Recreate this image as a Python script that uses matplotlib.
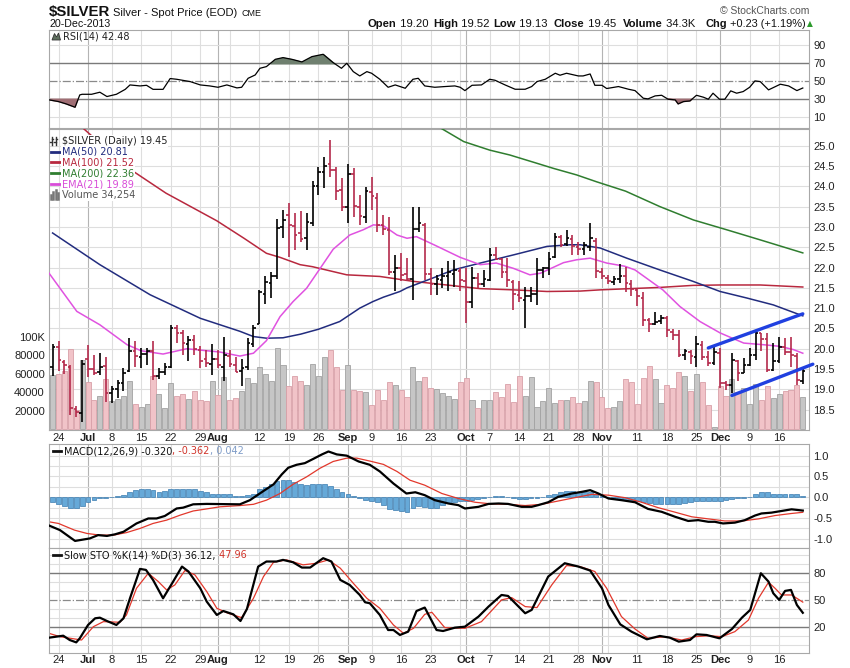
import numpy as np
import pandas as pd
import matplotlib
matplotlib.use("Agg")
import matplotlib.pyplot as plt
from matplotlib.lines import Line2D
from matplotlib.patches import Polygon
from matplotlib import transforms

plt.rcParams['font.family'] = ['Liberation Sans', 'DejaVu Sans']

W, H = 850, 668

# trading days on the chart (Jun 21 - Dec 20 2013)
days = pd.bdate_range('2013-06-21', '2013-12-20')
days = days[~days.isin(pd.to_datetime(['2013-07-04', '2013-09-02', '2013-11-28']))]

opens = [19.55, 20.05, 19.68, 19.55, 18.52, 18.42, 19.75, 19.50, 19.42, 19.58,
         18.90, 19.00, 19.15, 19.45, 19.95, 19.80, 19.88, 19.95, 19.32, 19.42,
         19.55, 20.50, 20.38, 20.12, 20.22, 19.98, 19.75, 19.62, 19.75, 19.55,
         19.82, 19.60, 19.45, 19.55, 20.12, 20.62, 21.35, 21.62, 21.80, 23.00,
         23.30, 23.02, 22.85, 22.72, 23.10, 24.00, 24.35, 24.55, 24.40, 23.90,
         23.50, 24.30, 23.50, 23.25, 23.85, 23.70, 23.05, 22.92, 21.88, 21.98,
         21.85, 21.72, 22.95, 23.05, 21.85, 21.60, 21.70, 21.78, 21.85, 21.92,
         21.68, 21.15, 21.75, 21.60, 21.70, 22.32, 22.20, 21.90, 21.65, 21.32,
         21.20, 21.30, 21.35, 21.95, 22.00, 22.25, 22.75, 22.58, 22.70, 22.50,
         22.45, 22.50, 22.65, 21.90, 21.75, 21.65, 21.72, 21.80, 21.60, 21.45,
         21.25, 20.70, 20.60, 20.68, 20.75, 20.42, 20.35, 19.85, 19.93, 19.80,
         20.10, 19.80, 19.65, 19.90, 19.15, 19.10, 19.70, 19.40, 19.60, 19.85,
         20.38, 20.25, 19.48, 19.70, 20.05, 19.93, 19.82, 19.20]
highs = [20.12, 20.18, 19.72, 19.60, 18.58, 19.72, 20.10, 19.85, 19.90, 19.80,
         19.08, 19.24, 19.52, 20.26, 20.18, 20.02, 20.02, 20.18, 19.52, 19.65,
         20.59, 20.59, 20.45, 20.32, 20.34, 20.08, 19.98, 20.12, 19.98, 20.28,
         19.98, 19.80, 19.75, 20.26, 20.59, 21.45, 21.78, 21.88, 23.20, 23.42,
         23.60, 23.33, 23.38, 23.33, 24.12, 24.48, 24.73, 25.14, 24.48, 24.20,
         24.56, 24.44, 23.79, 23.99, 24.24, 23.83, 23.30, 23.25, 22.30, 22.35,
         22.23, 23.50, 23.50, 23.10, 21.98, 21.82, 21.98, 22.15, 22.19, 21.98,
         21.98, 22.02, 21.86, 21.94, 22.47, 22.51, 22.23, 22.23, 21.70, 21.66,
         21.53, 21.53, 22.23, 22.02, 22.39, 22.84, 22.80, 22.93, 22.80, 22.62,
         22.64, 23.10, 22.72, 22.00, 21.82, 21.80, 22.08, 22.02, 21.70, 21.50,
         21.40, 20.75, 20.90, 20.82, 20.80, 20.48, 20.45, 20.00, 19.98, 20.32,
         20.20, 19.95, 20.05, 20.02, 19.20, 19.89, 19.73, 19.77, 20.02, 20.43,
         20.40, 20.38, 20.14, 20.30, 20.26, 20.30, 19.90, 19.52]
lows = [19.32, 19.45, 19.38, 18.38, 18.32, 18.20, 19.30, 19.36, 19.36, 18.70,
        18.66, 18.80, 18.95, 19.42, 19.56, 19.52, 19.60, 19.24, 19.26, 19.36,
        19.52, 20.15, 19.85, 19.69, 19.85, 19.52, 19.55, 19.36, 19.52, 19.20,
        19.55, 19.44, 19.08, 19.48, 20.05, 20.62, 21.10, 21.25, 21.72, 22.72,
        22.27, 22.43, 22.64, 22.43, 23.01, 23.79, 23.95, 24.24, 23.67, 23.38,
        23.09, 23.25, 23.05, 23.09, 23.42, 22.88, 22.80, 21.82, 21.41, 21.66,
        21.66, 21.20, 22.88, 21.69, 21.33, 21.33, 21.49, 21.41, 21.53, 21.41,
        20.63, 21.00, 21.49, 21.53, 21.66, 22.19, 21.74, 21.53, 20.96, 21.16,
        20.51, 21.16, 21.08, 21.74, 21.82, 22.23, 22.50, 22.52, 22.30, 22.32,
        22.30, 22.40, 21.74, 21.72, 21.60, 21.58, 21.62, 21.40, 21.30, 21.05,
        20.55, 20.42, 20.58, 20.60, 20.30, 20.22, 19.80, 19.72, 19.62, 19.55,
        19.72, 19.58, 19.60, 19.03, 18.99, 18.91, 19.20, 19.40, 19.58, 19.73,
        19.95, 19.44, 19.45, 19.65, 19.85, 19.55, 19.10, 19.13]
closes = [20.05, 19.72, 19.60, 18.55, 18.45, 19.62, 19.50, 19.40, 19.55, 18.90,
          19.00, 19.15, 19.40, 19.95, 19.82, 19.88, 19.95, 19.32, 19.42, 19.55,
          20.50, 20.40, 20.15, 20.22, 20.00, 19.70, 19.65, 19.75, 19.60, 19.85,
          19.62, 19.42, 19.52, 20.15, 20.50, 21.40, 21.65, 21.78, 22.98, 23.18,
          23.05, 22.80, 22.70, 23.12, 24.00, 24.35, 24.50, 24.40, 23.88, 23.50,
          24.30, 23.52, 23.28, 23.88, 23.75, 23.05, 22.95, 21.90, 21.98, 21.82,
          21.72, 22.95, 23.10, 21.85, 21.60, 21.72, 21.80, 21.88, 21.95, 21.70,
          21.15, 21.75, 21.60, 21.72, 22.30, 22.20, 21.90, 21.70, 21.35, 21.25,
          21.30, 21.35, 21.95, 22.00, 22.22, 22.75, 22.56, 22.72, 22.52, 22.45,
          22.55, 22.72, 21.92, 21.80, 21.68, 21.72, 21.80, 21.62, 21.48, 21.30,
          20.70, 20.60, 20.66, 20.75, 20.45, 20.35, 19.85, 19.95, 19.82, 20.12,
          19.80, 19.65, 19.92, 19.15, 19.10, 19.72, 19.40, 19.60, 19.85, 20.38,
          20.25, 19.48, 19.69, 20.05, 19.93, 19.85, 19.22, 19.45]
prev_close = 19.50

volume_k = [59, 60, 63, 87, 21, 75, 51, 32, 36, 54,
            30, 33, 36, 52, 27, 24, 27, 58, 38, 23,
            50, 36, 38, 33, 41, 32, 30, 52, 37, 56,
            31, 34, 41, 55, 50, 67, 60, 52, 88, 69,
            47, 58, 52, 48, 70, 57, 78, 86, 67, 42,
            69, 42, 41, 40, 26, 42, 32, 51, 48, 42,
            35, 67, 52, 56, 44, 43, 39, 36, 33, 51,
            55, 31, 23, 32, 32, 40, 35, 49, 29, 58,
            36, 56, 24, 30, 44, 28, 31, 32, 35, 28,
            30, 52, 51, 35, 23, 24, 30, 54, 51, 27,
            55, 68, 54, 28, 48, 44, 62, 58, 41, 60,
            51, 26, 2, 47, 36, 54, 40, 45, 27, 49,
            32, 47, 34, 38, 41, 42, 48, 34.254]

# moving averages (bar index, value)
ma50_x = [0, 8, 16.5, 25, 31.7, 34, 36.2, 39, 42, 45, 48.6, 52, 54.2, 56, 58.8, 60, 64.7,
          67.8, 72.4, 78, 83.7, 87.6, 89.3, 92.7, 97.2, 102.8, 108.4, 113, 117.5, 122, 127]
ma50_y = [22.85, 22.07, 21.33, 20.75, 20.43, 20.30, 20.26, 20.27, 20.36, 20.48, 20.67, 21.0,
          21.16, 21.27, 21.41, 21.50, 21.76, 21.94, 22.11, 22.31, 22.52, 22.56, 22.56, 22.48,
          22.23, 21.94, 21.66, 21.41, 21.25, 21.08, 20.81]
ma100_x = [5.0, 12.7, 19.2, 27.8, 32.4, 36.2, 38.5, 41.9, 44, 49.8, 55.4, 61, 66.7, 72.4,
           78, 83.7, 89.3, 92.7, 102.8, 108.4, 113, 119.8, 127]
ma100_y = [25.45, 24.46, 23.83, 23.15, 22.72, 22.35, 22.25, 22.07, 22.02, 21.82, 21.78, 21.66,
           21.57, 21.48, 21.45, 21.41, 21.42, 21.45, 21.51, 21.56, 21.57, 21.57, 21.52]
ma200_x = [65.5, 69.6, 74, 77.4, 81.9, 84.8, 88.7, 92.1, 97, 102.8, 108.5, 114.1, 119.8, 127]
ma200_y = [25.45, 25.10, 24.89, 24.77, 24.57, 24.44, 24.28, 24.11, 23.88, 23.50, 23.17,
           22.93, 22.68, 22.36]
ema21_x = [-0.6, 4.1, 8, 12.6, 15, 18.7, 22.7, 28.3, 31.7, 34, 36.2, 38.5, 40.7, 43, 45.3,
           47.5, 50.3, 52.6, 54.3, 56, 58.3, 60, 61.6, 64.7, 69, 72.4, 75.1, 78, 80.8, 82.6,
           86.5, 88.7, 91, 93.8, 96.9, 98.6, 103.3, 106.2, 109.6, 113, 117, 120.3, 123.1,
           125.4, 127]
ema21_y = [21.86, 20.92, 20.59, 20.10, 19.95, 19.87, 20.00, 19.92, 19.82, 19.89, 20.20,
           20.79, 21.16, 21.49, 21.98, 22.45, 22.80, 22.93, 23.05, 23.03, 22.80, 22.72,
           22.76, 22.55, 22.25, 22.07, 22.11, 21.98, 21.82, 21.86, 22.12, 22.19, 22.23,
           22.11, 22.03, 21.94, 21.45, 21.04, 20.67, 20.39, 20.14, 20.10, 20.06, 19.98, 19.89]

# hand drawn channel
trend_up_x, trend_up_y = [111, 127], [20.02, 20.86]
trend_lo_x, trend_lo_y = [115, 128.7], [18.85, 19.62]

rsi_x = [-0.6, 1, 2.3, 3.8, 4.6, 5, 6.6, 8, 9.2, 10.8, 12.3, 13.1, 14.8, 15.9, 17, 18.7,
         19.9, 21, 23.3, 25, 26.6, 28, 29.5, 31.2, 32, 33.1, 34.3, 35.1, 36.2, 37.7, 39,
         40.5, 42.2, 43.9, 45.8, 47.5, 48.9, 49.8, 50.9, 52, 53.2, 54, 55.4, 56.8, 58,
         59.7, 61, 61.9, 63, 64.7, 66.4, 68.1, 69, 69.8, 71, 72.6, 74, 74.9, 76.6, 78.3,
         80, 81.1, 82, 83.4, 85.1, 85.9, 87, 89, 89.8, 91, 91.8, 93, 93.8, 95.8, 97.5,
         98.6, 100, 100.8, 102, 103.1, 104.2, 105.4, 105.9, 106.8, 107.9, 109, 110.2,
         111, 111.8, 112.9, 113.8, 114.8, 115.8, 116.9, 118, 118.9, 119.8, 121.2, 123.2,
         124.6, 126, 127]
rsi_y = [29.3, 27.4, 24.8, 21.1, 34.8, 35.5, 35.5, 37.8, 33, 35.5, 41, 45.9, 44.8, 45.5,
         41, 41, 53, 52.2, 49.6, 45.9, 44.8, 43.3, 45.9, 42.6, 43.3, 53.3, 57, 64.4, 66.3,
         74.4, 76.3, 74.4, 71.5, 77.4, 80, 70.7, 64.4, 70, 60.7, 55.9, 60.7, 58.9, 52.2,
         43.3, 45.9, 42.2, 52.2, 53.3, 44.8, 43.3, 44.1, 44.8, 43.3, 39.6, 45.5, 45.9, 52.2,
         51.1, 45.9, 41.1, 41.1, 44.1, 49.6, 52.2, 58.9, 56.7, 58.9, 55.9, 55.9, 58.1, 45.5,
         45.5, 41.9, 44.1, 41.1, 39.6, 31.1, 30.4, 33.7, 34.4, 30, 29.3, 24.8, 27.4, 28.1,
         34.4, 32.2, 30, 36.7, 30, 30, 39.3, 36.7, 38.5, 43.3, 50.4, 49.6, 40.4, 46.7, 44.8,
         39.6, 42.48]

macd_x = [-0.6, 1.25, 3.8, 6.3, 7.7, 9.2, 10.6, 12, 14.2, 16.2, 17.6, 19, 21, 22.1, 23.8,
          26.1, 31.7, 33.4, 35.7, 37.4, 38.8, 39.9, 41.3, 42.7, 44.1, 45.6, 46.7, 48.1,
          49.8, 51.8, 53.7, 55.4, 57.7, 59.9, 61.4, 63, 64.7, 67, 68.7, 69.8, 72.1, 73.8,
          75.5, 77.1, 79.4, 81.1, 82.2, 83.9, 85.6, 87.9, 89.6, 91, 92.4, 94.1, 96.3, 98.6,
          100.8, 103.1, 105.4, 107.6, 109.3, 111, 112.1, 113.5, 115.5, 117.2, 118.9, 120,
          121.7, 123.4, 125.1, 127]
macd_y = [-0.68, -0.79, -1.05, -0.99, -0.91, -0.93, -0.89, -0.83, -0.63, -0.51, -0.51,
          -0.45, -0.27, -0.25, -0.17, -0.16, -0.17, -0.07, 0.15, 0.31, 0.55, 0.71, 0.78,
          0.82, 0.92, 1.03, 1.10, 1.03, 1.0, 0.86, 0.78, 0.62, 0.33, 0.09, 0.12, 0.05,
          -0.07, -0.15, -0.19, -0.27, -0.23, -0.16, -0.15, -0.16, -0.23, -0.23, -0.19,
          -0.12, 0.01, 0.09, 0.13, 0.17, 0.09, -0.03, -0.07, -0.12, -0.28, -0.35, -0.47,
          -0.57, -0.55, -0.59, -0.59, -0.63, -0.61, -0.55, -0.44, -0.39, -0.37, -0.33,
          -0.29, -0.32]
signal_x = [-0.6, 1, 3.7, 5.8, 8, 10.3, 12.5, 14.8, 17, 19.3, 21.6, 23.8, 26.1, 28.3, 31.7,
            34, 36.2, 38.5, 40.7, 43, 45.3, 47.5, 49.8, 51.5, 53.7, 56, 58.3, 60.5, 63,
            65.9, 68.7, 71.5, 74.3, 77.1, 80, 82.8, 85.6, 88.4, 91.3, 94.1, 96.9, 99.7,
            102.5, 105.4, 108.2, 111, 113.8, 116.7, 119.5, 122.3, 125.1, 127]
signal_y = [-0.59, -0.63, -0.79, -0.87, -0.91, -0.91, -0.85, -0.75, -0.63, -0.55, -0.43,
            -0.33, -0.28, -0.23, -0.20, -0.17, -0.07, 0.09, 0.31, 0.49, 0.70, 0.86, 0.94,
            0.94, 0.87, 0.79, 0.62, 0.41, 0.29, 0.09, -0.03, -0.12, -0.16, -0.17, -0.20,
            -0.17, -0.09, -0.01, 0.07, 0.05, -0.01, -0.12, -0.25, -0.36, -0.47, -0.52,
            -0.57, -0.57, -0.52, -0.44, -0.39, -0.362]
hist = [-0.12, -0.17, -0.21, -0.25, -0.27, -0.21, -0.12, -0.07, -0.03, -0.03,
        0.00, 0.04, 0.05, 0.13, 0.17, 0.20, 0.21, 0.17, 0.13, 0.15,
        0.20, 0.21, 0.21, 0.21, 0.20, 0.15, 0.12, 0.09, 0.08, 0.09,
        0.07, 0.03, 0.03, 0.05, 0.09, 0.21, 0.25, 0.31, 0.39, 0.41,
        0.41, 0.37, 0.33, 0.29, 0.31, 0.31, 0.31, 0.27, 0.21, 0.12,
        0.09, 0.03, -0.03, -0.07, -0.09, -0.12, -0.19, -0.28, -0.31, -0.33,
        -0.36, -0.27, -0.20, -0.23, -0.25, -0.25, -0.19, -0.15, -0.11, -0.09,
        -0.09, -0.07, -0.04, -0.03, 0.01, 0.03, 0.03, 0.01, -0.01, -0.04,
        -0.04, -0.03, -0.01, 0.01, 0.05, 0.09, 0.13, 0.15, 0.15, 0.13,
        0.12, 0.13, 0.07, 0.03, 0.00, -0.03, -0.04, -0.07, -0.07, -0.09,
        -0.12, -0.15, -0.16, -0.16, -0.16, -0.16, -0.16, -0.15, -0.12, -0.09,
        -0.08, -0.08, -0.08, -0.09, -0.06, -0.04, -0.03, -0.01, 0.01, 0.09,
        0.12, 0.12, 0.09, 0.09, 0.09, 0.09, 0.07, 0.042]

stok_x = [-0.6, 1.8, 2.9, 4, 4.6, 6, 7.2, 8, 9.2, 10.8, 12, 13.1, 14.8, 15.8, 17, 18.7,
          20.4, 21.9, 23, 25, 26.1, 27.8, 28.9, 30.6, 31.8, 32.9, 34.8, 36.2, 37.9, 39,
          40.7, 42.2, 43.6, 45.8, 47.2, 48.7, 50.3, 52, 52.9, 53.7, 55.4, 56.8, 57.7, 58.8,
          60.2, 61.6, 63, 65, 66.1, 68.1, 69.8, 72.1, 73.8, 76, 77.1, 80, 81.1, 83.9, 86.7,
          89, 91, 93, 94.1, 96.1, 98, 100.6, 102.8, 104.5, 106, 107.9, 109, 110.7, 112.9,
          115, 116.7, 118.1, 119.9, 121.2, 122, 123, 124, 125, 126, 127]
stok_y = [8.5, 10.7, 5.9, 3.3, 7.8, 22.6, 30, 30.7, 27, 22.6, 30, 52.2, 84.8, 83.7, 72.6,
          52.2, 70.7, 87.4, 81.9, 63.3, 48.5, 33.7, 38.1, 34.4, 27, 40.4, 87.4, 93, 93,
          94.8, 92.2, 86.3, 86.3, 96.7, 93, 72.6, 67, 55.9, 47.8, 46.7, 33.7, 17, 17, 11.5,
          15.2, 38.1, 41.9, 17, 15.9, 19.6, 20.7, 31.9, 43, 55.9, 54.8, 35.6, 39.3, 76.3,
          91.1, 87.4, 83, 63.3, 44.8, 23.3, 15.2, 6.7, 10.4, 8.5, 4.1, 5.9, 12.2, 11.5, 7.8,
          18.1, 30.7, 39.3, 80, 70.7, 57.8, 50.4, 60.4, 61.5, 44.8, 36.12]
stod_x = [-0.6, 1.25, 4.9, 6.9, 8.6, 11.4, 12.5, 14.2, 16.2, 17.9, 19.3, 20.7, 22.4, 24.1,
          26.1, 27.8, 29.7, 32, 34, 35.7, 37.4, 39.6, 42.4, 44.7, 46.7, 48.7, 50.9, 53.2,
          55.4, 57.7, 59.4, 61.1, 63, 64.2, 66.4, 69.8, 72.6, 76, 77.7, 80, 82, 84.5, 87,
          89.3, 91.8, 93.8, 96.3, 98.6, 100.8, 103.7, 106.5, 108.8, 111, 113.3, 115.5,
          117.8, 119.5, 121.2, 122.3, 123.4, 125.1, 127]
stod_y = [13.3, 9.6, 5.9, 20.7, 26.3, 25.6, 33.7, 63.3, 80, 70.7, 61.5, 67, 83, 78.1, 59.6,
          41.1, 35.6, 30.7, 52.2, 76.3, 92.2, 94.8, 89.3, 91.1, 94.8, 85.6, 68.9, 52.2,
          41.1, 22.6, 13.3, 18.9, 34.4, 36.7, 19.6, 18.9, 26.3, 50.4, 53, 43, 41.9, 67,
          88.5, 87.4, 81.9, 63.3, 31.9, 18.1, 7.8, 9.6, 5.9, 9.6, 10.7, 9.6, 15.2, 28.1,
          52.2, 70, 63.3, 55.9, 55.9, 47.96]

label_dates = ['2013-06-24', '2013-07-01', '2013-07-08', '2013-07-15', '2013-07-22',
               '2013-07-29', '2013-08-01', '2013-08-12', '2013-08-19', '2013-08-26',
               '2013-09-03', '2013-09-09', '2013-09-16', '2013-09-23', '2013-10-01',
               '2013-10-07', '2013-10-14', '2013-10-21', '2013-10-28', '2013-11-01',
               '2013-11-11', '2013-11-18', '2013-11-25', '2013-12-02', '2013-12-09',
               '2013-12-16']
label_text = ['24', 'Jul', '8', '15', '22', '29', 'Aug', '12', '19', '26', 'Sep', '9', '16',
              '23', 'Oct', '7', '14', '21', '28', 'Nov', '11', '18', '25', 'Dec', '9', '16']
months = ['Jul', 'Aug', 'Sep', 'Oct', 'Nov', 'Dec']

# ---------------------------------------------------------------------------
N = len(days)
idx = np.arange(N)
label_idx = [days.get_loc(pd.Timestamp(d)) for d in label_dates]
week_idx = [i for i in range(1, N) if days[i].isocalendar()[1] != days[i - 1].isocalendar()[1]]
month_idx = [i for i in range(1, N) if days[i].month != days[i - 1].month]
XL = (-0.61, 128.05)

fig = plt.figure(figsize=(W / 100, H / 100), dpi=100)


def box(x0, y0, x1, y1):
    return [x0 / W, 1 - y1 / H, (x1 - x0) / W, (y1 - y0) / H]


def style(a, grid=True):
    a.set_xlim(*XL)
    for s in a.spines.values():
        s.set_color('#a8a8a8')
        s.set_linewidth(0.8)
    a.tick_params(length=0, labelsize=8, colors='#222222', pad=3)
    a.set_xticks([])
    a.yaxis.tick_right()
    if grid:
        for i in sorted(set(week_idx) | set(month_idx)):
            a.axvline(i, color='#b4b4b4' if i in month_idx else '#dedede', lw=0.8, zorder=0)


def hgrid(a, levels, color='#dedede', lw=0.8, ls='-'):
    for v in levels:
        a.axhline(v, color=color, lw=lw, ls=ls, zorder=0.5)


LEG = ['DejaVu Sans']

# ---- RSI panel
ax_rsi = fig.add_axes(box(49, 30, 809, 128))
style(ax_rsi)
ax_rsi.set_ylim(-2, 107)
hgrid(ax_rsi, [10, 90])
hgrid(ax_rsi, [30, 70], color='#7a7a7a', lw=1.0)
hgrid(ax_rsi, [50], color='#8a8a8a', lw=0.9, ls='-.')
rx, ry = np.array(rsi_x), np.array(rsi_y)
ax_rsi.fill_between(rx, ry, 70, where=ry > 70, interpolate=True, color='#6f806f', zorder=2)
ax_rsi.fill_between(rx, ry, 30, where=ry < 30, interpolate=True, color='#a06e74', zorder=2)
ax_rsi.plot(rx, ry, color='black', lw=0.9, zorder=3)
ax_rsi.set_yticks([10, 30, 50, 70, 90])

# ---- price panel with volume underneath
ax_vol = fig.add_axes(box(49, 129, 809, 430))
ax = fig.add_axes(box(49, 129, 809, 430))
style(ax_vol)
ax_vol.yaxis.tick_left()
ax.set_xlim(*XL)
ax.set_ylim(18.0, 25.41)
ax.patch.set_visible(False)
for s in ax.spines.values():
    s.set_visible(False)
ax.tick_params(length=0, labelsize=8, colors='#222222', pad=3)
ax.yaxis.tick_right()
ax.set_yticks(np.arange(18.5, 25.01, 0.5))
ax.set_yticklabels(['%.1f' % v for v in np.arange(18.5, 25.01, 0.5)])

blend = transforms.blended_transform_factory(ax_vol.transAxes, ax.transData)
for p in np.arange(18.5, 25.01, 0.5):
    ax_vol.plot([0, 1], [p, p], transform=blend, color='#dedede', lw=0.8, zorder=0.5)

prevs = [prev_close] + closes[:-1]
up = [c > p for c, p in zip(closes, prevs)]
bar_col = ['#000000' if u else '#b42a4c' for u in up]
ax_vol.bar(idx, np.array(volume_k) * 1000, width=0.86,
           color=['#c6c6c6' if u else '#f1c3c8' for u in up],
           edgecolor=['#a2a2a2' if u else '#d8a0a8' for u in up], lw=0.6, zorder=1)
ax_vol.set_ylim(-900, 324500)
ax_vol.set_yticks([20000, 40000, 60000, 80000, 100000])
ax_vol.set_yticklabels(['20000', '40000', '60000', '80000', '100K'])

ax.plot(ma100_x, ma100_y, color='#b8283e', lw=1.1, zorder=2)
ax.plot(ma200_x, ma200_y, color='#2f7d2f', lw=1.1, zorder=2)
ax.plot(ma50_x, ma50_y, color='#222c7e', lw=1.1, zorder=2)
ax.plot(ema21_x, ema21_y, color='#e052e0', lw=1.1, zorder=2)
ax.vlines(idx, lows, highs, colors=bar_col, lw=1.2, zorder=3)
ax.hlines(opens, idx - 0.45, idx, colors=bar_col, lw=1.2, zorder=3)
ax.hlines(closes, idx, idx + 0.45, colors=bar_col, lw=1.2, zorder=3)
ax.plot(trend_up_x, trend_up_y, color='#2040e0', lw=2.4, zorder=4, solid_capstyle='round')
ax.plot(trend_lo_x, trend_lo_y, color='#2040e0', lw=2.4, zorder=4, clip_on=False,
        solid_capstyle='round')

ax.set_xticks(label_idx)
ax.set_xticklabels(label_text)
ax.tick_params(axis='x', length=0, labelsize=8, pad=2.5)

# ---- MACD panel
ax_macd = fig.add_axes(box(49, 444, 809, 548))
style(ax_macd)
ax_macd.set_ylim(-1.22, 1.28)
hgrid(ax_macd, np.arange(-1.0, 1.01, 0.25))
ax_macd.bar(idx, hist, width=0.82, color='#66a9d8', edgecolor='#3c7cb0', lw=0.5, zorder=1)
ax_macd.plot(signal_x, signal_y, color='#e2382c', lw=0.9, zorder=2)
ax_macd.plot(macd_x, macd_y, color='black', lw=1.6, zorder=3)
ax_macd.set_yticks([-1.0, -0.5, 0.0, 0.5, 1.0])
ax_macd.set_yticklabels(['-1.0', '-0.5', '0.0', '0.5', '1.0'])

# ---- Slow stochastic panel
ax_sto = fig.add_axes(box(49, 548, 809, 653))
style(ax_sto)
ax_sto.set_ylim(-8.5, 108)
hgrid(ax_sto, [0, 10, 30, 40, 60, 70, 90, 100])
hgrid(ax_sto, [20, 80], color='#7a7a7a', lw=1.0)
hgrid(ax_sto, [50], color='#8a8a8a', lw=0.9, ls='-.')
ax_sto.plot(stod_x, stod_y, color='#e2382c', lw=0.9, zorder=2)
ax_sto.plot(stok_x, stok_y, color='black', lw=1.6, zorder=3)
ax_sto.set_yticks([20, 50, 80])
ax_sto.set_xticks(label_idx)
ax_sto.set_xticklabels(label_text)
ax_sto.tick_params(axis='x', length=0, labelsize=8, pad=1.5)

for a in (ax, ax_sto):
    for t in a.get_xticklabels():
        if t.get_text() in months:
            t.set_fontweight('bold')

# ---- text and legends


def put(x, y, s, size=8, color='#222222', weight='normal', family=None, ha='left', **kw):
    kws = dict(fontsize=size, color=color, fontweight=weight, ha=ha, va='center')
    if family:
        kws['family'] = family
    kws.update(kw)
    return fig.text(x / W, 1 - y / H, s, **kws)


def run(x, y, parts, size=8, family=None):
    r = fig.canvas.get_renderer()
    for s, color, weight in parts:
        t = put(x, y, s, size=size, color=color, weight=weight, family=family)
        x += t.get_window_extent(renderer=r).width
    return x


def seg(x0, x1, y, color, lw=2.0):
    fig.add_artist(Line2D([x0 / W, x1 / W], [1 - y / H, 1 - y / H], color=color, lw=lw))


x = run(49, 12, [('$SILVER', '#111111', 'bold')], size=10.8)
x = run(x + 3, 12.5, [('Silver - Spot Price (EOD)', '#111111', 'normal')], size=8)
run(x + 4, 13, [('CME', '#111111', 'normal')], size=6.5)
put(49, 24, '20-Dec-2013', size=7.7, color='#111111')
put(809, 10.5, '\u00a9 StockCharts.com', size=7.5, color='#555555', ha='right')

info = [(368, 'Open', ' 19.20'), (433, 'High', ' 19.52'), (493, 'Low', ' 19.13'),
        (554, 'Close', ' 19.45'), (623, 'Volume', ' 34.3K')]
for xx, lab, val in info:
    run(xx, 24, [(lab, '#111111', 'bold'), (val, '#111111', 'normal')], size=8.1)
x = run(705, 24, [('Chg', '#111111', 'bold'), (' +0.23 (+1.19%) ', '#111111', 'normal')],
        size=7.9)
put(x - 1, 24, '\u25b2', size=5.5, color='#2c9a2c', family=['DejaVu Sans'])

# RSI legend
fig.add_artist(Polygon([(52 / W, 1 - 40 / H), (54.5 / W, 1 - 33.5 / H), (56.5 / W, 1 - 37 / H),
                        (58.5 / W, 1 - 33 / H), (60.5 / W, 1 - 40 / H)],
                       closed=True, facecolor='#5f705f', edgecolor='#333333', lw=0.6))
put(63, 36.5, 'RSI(14) 42.48', size=7, family=LEG)

# price legend
wb = dict(facecolor='white', edgecolor='none', pad=0.6)
for xx, y0, y1 in [(51.5, 137, 145), (55.5, 136.5, 144.5)]:
    fig.add_artist(Line2D([xx / W, xx / W], [1 - y0 / H, 1 - y1 / H], color='#333333', lw=1))
    fig.add_artist(Line2D([(xx - 1.5) / W, xx / W], [1 - (y0 + 5) / H] * 2, color='#333333', lw=1))
    fig.add_artist(Line2D([xx / W, (xx + 1.5) / W], [1 - (y0 + 2) / H] * 2, color='#333333', lw=1))
put(62, 141, '$SILVER (Daily) 19.45', size=7, family=LEG, bbox=wb)
rows = [('MA(50) 20.81', '#222c7e', 151.5), ('MA(100) 21.52', '#b8283e', 162.3),
        ('MA(200) 22.36', '#2f7d2f', 173.2), ('EMA(21) 19.89', '#d84cd8', 184.1)]
for txt, col, yy in rows:
    put(61.5, yy, txt, size=7, color=col, family=LEG, bbox=wb)
    seg(51, 61, yy, col, lw=2.0)
for k, hh in enumerate([4, 7, 9, 6]):
    fig.add_artist(Line2D([(51 + 2.4 * k) / W] * 2, [1 - 199 / H, 1 - (199 - hh) / H],
                          color='#777777', lw=1.8))
put(61.5, 195, 'Volume 34,254', size=7, color='#555555', family=LEG, bbox=wb)

# MACD legend
seg(53, 61, 451, '#111111', lw=2.0)
run(64, 451, [('MACD(12,26,9) -0.320', '#111111', 'normal'), (', -0.362', '#d0342a', 'normal'),
              (', 0.042', '#7f9cc8', 'normal')], size=7, family=LEG)

# stochastic legend
seg(53, 61, 555, '#111111', lw=2.0)
run(64, 555, [('Slow STO %K(14) %D(3) 36.12,', '#111111', 'normal'),
              (' 47.96', '#d0342a', 'normal')], size=7, family=LEG)

fig.savefig('out.png', dpi=100)
